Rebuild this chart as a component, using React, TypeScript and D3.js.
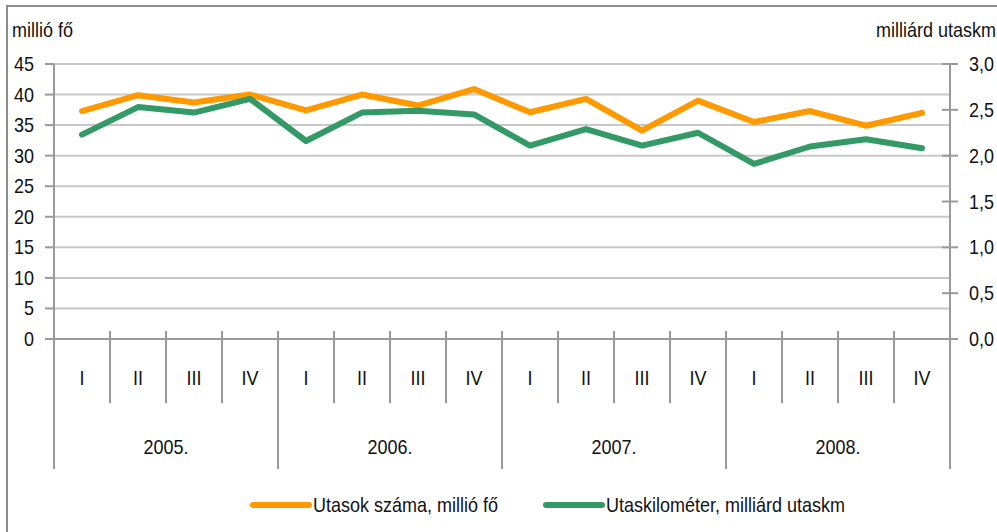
import { useMemo } from 'react';
import type { ReactNode } from 'react';
import * as d3 from 'd3';

// quarterly values, 2005 I – 2008 IV
const years = ['2005.', '2006.', '2007.', '2008.'];
const quarters = ['I', 'II', 'III', 'IV'];
const passengers = [
  37.3, 39.9, 38.7, 40.0, 37.4, 40.0, 38.2, 40.9, 37.1, 39.3, 34.1, 39.0, 35.5, 37.3, 34.9, 37.0,
];
const passengerKm = [
  2.23, 2.53, 2.47, 2.62, 2.16, 2.47, 2.49, 2.45, 2.11, 2.29, 2.11, 2.25, 1.91, 2.1, 2.18, 2.08,
];
const leftTicks = [0, 5, 10, 15, 20, 25, 30, 35, 40, 45];
const rightTicks = [0, 0.5, 1, 1.5, 2, 2.5, 3];

const seriesNames = ['Utasok száma, millió fő', 'Utaskilométer, milliárd utaskm'];
const colors = ['#ff9900', '#339966'];

const width = 997;
const height = 532;
const margin = { left: 54, right: 47, top: 64, bottom: 193 };
const font = '"Liberation Sans", Arial, sans-serif';
const axisColor = '#9a9a9a';

// narrow-ish labels, like the condensed Arial of the original
function Label(props: {
  x: number;
  y: number;
  anchor?: 'start' | 'middle' | 'end';
  middle?: boolean;
  children: ReactNode;
}): JSX.Element {
  const { x, y, anchor = 'start', middle = true, children } = props;
  return (
    <text
      transform={`translate(${x},${y}) scale(0.9,1)`}
      dy={middle ? '0.35em' : undefined}
      textAnchor={anchor}
      fill="#111"
    >
      {children}
    </text>
  );
}

export default function App(): JSX.Element {
  const periods = useMemo(() => years.flatMap((y) => quarters.map((q) => `${y}${q}`)), []);

  const x = d3
    .scaleBand<string>()
    .domain(periods)
    .range([margin.left, width - margin.right]);
  const yLeft = d3
    .scaleLinear()
    .domain([0, 45])
    .range([height - margin.bottom, margin.top]);
  const yRight = d3
    .scaleLinear()
    .domain([0, 3])
    .range([height - margin.bottom, margin.top]);

  const cx = (p: string) => (x(p) ?? 0) + x.bandwidth() / 2;
  const lineLeft = d3
    .line<number>()
    .x((_, i) => cx(periods[i]))
    .y((d) => yLeft(d));
  const lineRight = d3
    .line<number>()
    .x((_, i) => cx(periods[i]))
    .y((d) => yRight(d));

  const x0 = margin.left;
  const x1 = width - margin.right;
  const base = yLeft(0);
  const bw = x.bandwidth();

  return (
    <svg
      width={width}
      height={height}
      style={{ position: 'absolute', left: 0, top: 0, background: '#fff' }}
      fontFamily={font}
      fontSize={20}
    >
      <rect x={7} y={6} width={1100} height={600} fill="#fff" stroke="#8c8c8c" strokeWidth={2} />

      {/* gridlines */}
      {leftTicks
        .filter((t) => t > 0)
        .map((t) => (
          <line key={t} x1={x0} x2={x1} y1={yLeft(t)} y2={yLeft(t)} stroke="#c8c8c8" strokeWidth={2} />
        ))}

      {/* left axis */}
      <line x1={x0} x2={x0} y1={yLeft(45)} y2={469} stroke={axisColor} strokeWidth={2} />
      {leftTicks.map((t) => (
        <g key={t}>
          <line x1={x0 - 9} x2={x0} y1={yLeft(t)} y2={yLeft(t)} stroke={axisColor} strokeWidth={2} />
          <Label x={34} y={yLeft(t)} anchor="end">
            {t}
          </Label>
        </g>
      ))}
      <Label x={12} y={37} middle={false}>
        millió fő
      </Label>

      {/* right axis */}
      <line x1={x1} x2={x1} y1={yRight(3)} y2={469} stroke={axisColor} strokeWidth={2} />
      {rightTicks.map((t) => (
        <g key={t}>
          <line x1={x1 - 8} x2={x1 + 8} y1={yRight(t)} y2={yRight(t)} stroke={axisColor} strokeWidth={2} />
          <Label x={969} y={yRight(t)}>
            {d3.format('.1f')(t).replace('.', ',')}
          </Label>
        </g>
      ))}
      <Label x={996} y={37} anchor="end" middle={false}>
        milliárd utaskm
      </Label>

      {/* category axis */}
      <line x1={x0 - 9} x2={x1 + 8} y1={base} y2={base} stroke={axisColor} strokeWidth={2} />
      {periods.map((p, i) => {
        const left = x(p) ?? 0;
        return (
          <g key={p}>
            {i > 0 && (
              <line
                x1={left}
                x2={left}
                y1={base - 8}
                y2={i % 4 === 0 ? 469 : 403}
                stroke={axisColor}
                strokeWidth={2}
              />
            )}
            <Label x={left + bw / 2} y={378} anchor="middle">
              {quarters[i % 4]}
            </Label>
          </g>
        );
      })}
      {years.map((y) => (
        <Label key={y} x={(x(`${y}I`) ?? 0) + bw * 2} y={447} anchor="middle">
          {y}
        </Label>
      ))}

      {/* series */}
      <path d={lineLeft(passengers) ?? ''} fill="none" stroke={colors[0]} strokeWidth={6} strokeLinejoin="round" strokeLinecap="round" />
      <path d={lineRight(passengerKm) ?? ''} fill="none" stroke={colors[1]} strokeWidth={6} strokeLinejoin="round" strokeLinecap="round" />

      {/* legend */}
      {seriesNames.map((name, i) => {
        const lx = i === 0 ? 253 : 546;
        return (
          <g key={name}>
            <line x1={lx} x2={lx + 56} y1={505} y2={505} stroke={colors[i]} strokeWidth={6} strokeLinecap="round" />
            <Label x={lx + 60} y={505}>
              {name}
            </Label>
          </g>
        );
      })}
    </svg>
  );
}
